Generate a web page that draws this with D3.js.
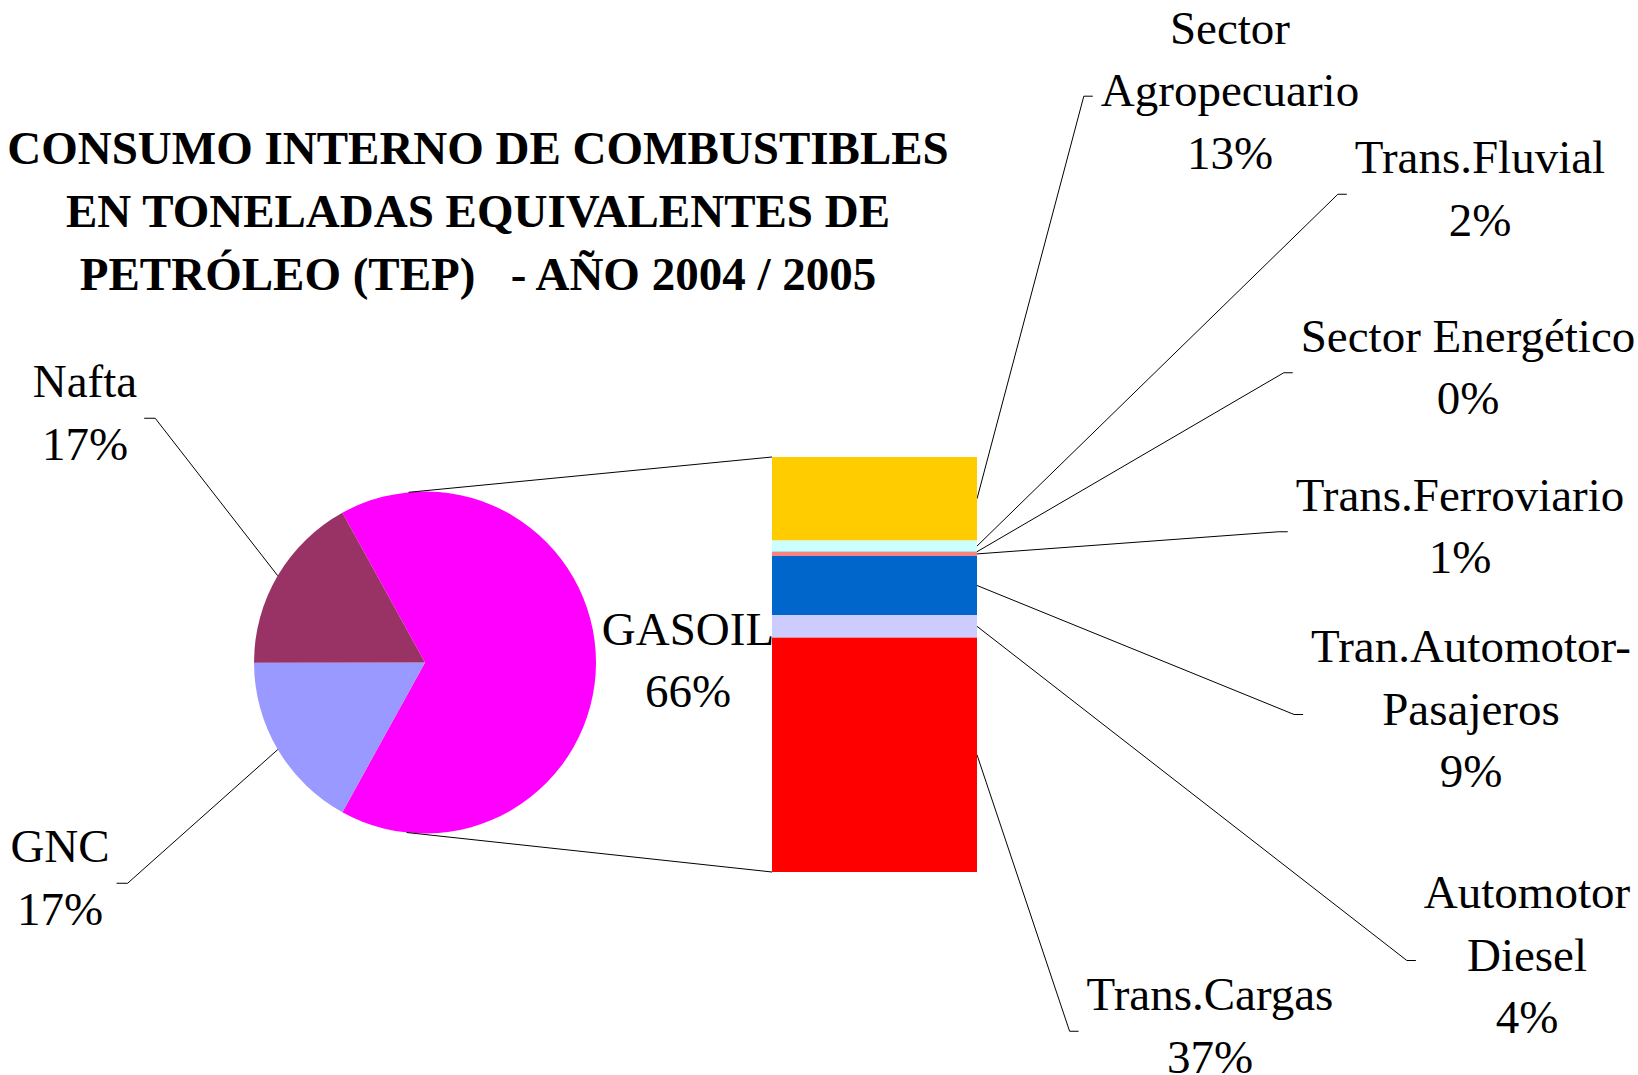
<!DOCTYPE html>
<html><head><meta charset="utf-8">
<script src="https://cdn.jsdelivr.net/npm/d3@7"></script>
<style>
html,body{margin:0;padding:0;background:#fff;}
svg{display:block;}
text{font-family:"Liberation Serif","Times New Roman",serif;fill:#000;white-space:pre;}
</style></head>
<body>
<svg id="chart" width="1638" height="1075"></svg>
<script>
// ---------- DATA ----------
const titleLines = ["CONSUMO INTERNO DE COMBUSTIBLES", "EN TONELADAS EQUIVALENTES DE", "PETRÓLEO (TEP)   - AÑO 2004 / 2005"];
const pieCategories = ["GASOIL", "GNC", "Nafta"];
const pieValues = [66.05, 16.95, 17.0];
const pieColors = ["#FF00FF", "#9999FF", "#993366"];
const barCategories = ["Sector Agropecuario", "Trans.Fluvial", "Sector Energético", "Trans.Ferroviario", "Tran.Automotor-Pasajeros", "Automotor Diesel", "Trans.Cargas"];
const barValues = [13.3, 1.75, 0.05, 0.65, 9.4, 3.6, 37.3];
const barColors = ["#FFCC00", "#CCFFFF", "#00CCCC", "#FF8080", "#0066CC", "#CCCCFF", "#FF0000"];

// ---------- LAYOUT ----------
const W = 1638, H = 1075;
const pieC = {x: 425, y: 662.5}, R = 171;
const bar = {x0: 772, x1: 977, y0: 457, y1: 872};
const fontSize = 47, lineH = 62.5;
// label blocks: name lines, centre x, first baseline, leader side
const labelLayout = {
  "Nafta": {lines: ["Nafta"], cx: 85, y: 397, side: "right"},
  "GNC": {lines: ["GNC"], cx: 60, y: 862, side: "right"},
  "GASOIL": {lines: ["GASOIL"], cx: 688, y: 644.5, side: "none"},
  "Sector Agropecuario": {lines: ["Sector", "Agropecuario"], cx: 1230, y: 43.7, side: "left"},
  "Trans.Fluvial": {lines: ["Trans.Fluvial"], cx: 1480, y: 173, side: "left"},
  "Sector Energético": {lines: ["Sector Energético"], cx: 1468, y: 351.5, side: "left"},
  "Trans.Ferroviario": {lines: ["Trans.Ferroviario"], cx: 1460, y: 510.5, side: "left"},
  "Tran.Automotor-Pasajeros": {lines: ["Tran.Automotor-", "Pasajeros"], cx: 1471, y: 662, side: "left"},
  "Automotor Diesel": {lines: ["Automotor", "Diesel"], cx: 1527, y: 908, side: "left"},
  "Trans.Cargas": {lines: ["Trans.Cargas"], cx: 1210, y: 1010, side: "left"}
};

const svg = d3.select("#chart");

// ---------- TITLE ----------
const title = svg.append("text").attr("text-anchor", "middle")
  .attr("font-size", fontSize).attr("font-weight", "bold");
titleLines.forEach((t, i) => {
  title.append("tspan").attr("x", 478).attr("y", 163.5 + i * 63).text(t);
});

// ---------- PIE ----------
const total = d3.sum(pieValues);
const gasAngle = pieValues[0] / total * 2 * Math.PI;
const start = Math.PI / 2 - gasAngle / 2;
const pie = d3.pie().sort(null).value(d => d.v).startAngle(start).endAngle(start + 2 * Math.PI);
const arcs = pie(pieCategories.map((c, i) => ({c, v: pieValues[i], col: pieColors[i]})));
const arc = d3.arc().innerRadius(0).outerRadius(R);
const gPie = svg.append("g").attr("transform", `translate(${pieC.x},${pieC.y})`);

// ---------- BAR ----------
const gasTotal = d3.sum(barValues);
const yBar = d3.scaleLinear().domain([0, gasTotal]).range([bar.y0, bar.y1]);
const cum = d3.cumsum(barValues);
const segs = barCategories.map((c, i) => ({c, v: barValues[i], col: barColors[i], a: cum[i] - barValues[i], b: cum[i]}));

// connector lines: tangent from bar corners to pie circle
function tangent(px, py, upper) {
  const dx = px - pieC.x, dy = py - pieC.y;
  const d = Math.hypot(dx, dy);
  const base = Math.atan2(dy, dx);
  const off = Math.acos(R / d);
  const a = upper ? base - off : base + off;
  return [pieC.x + R * Math.cos(a), pieC.y + R * Math.sin(a)];
}
const gLines = svg.append("g").attr("stroke", "#000").attr("stroke-width", 1).attr("fill", "none");
const tTop = tangent(bar.x0, bar.y0, true);
const tBot = tangent(bar.x0, bar.y1, false);
gLines.append("line").attr("x1", tTop[0]).attr("y1", tTop[1]).attr("x2", bar.x0).attr("y2", bar.y0);
gLines.append("line").attr("x1", tBot[0]).attr("y1", tBot[1]).attr("x2", bar.x0).attr("y2", bar.y1);

gPie.selectAll("path").data(arcs).join("path")
  .attr("d", arc).attr("fill", d => d.data.col);

svg.append("g").selectAll("rect").data(segs).join("rect")
  .attr("x", bar.x0).attr("width", bar.x1 - bar.x0)
  .attr("y", d => yBar(d.a)).attr("height", d => Math.max(0, yBar(d.b) - yBar(d.a)))
  .attr("fill", d => d.col);

// ---------- LABELS ----------
function drawLabel(name, value) {
  const L = labelLayout[name];
  const lines = L.lines.concat([Math.round(value) + "%"]);
  const t = svg.append("text").attr("text-anchor", "middle").attr("font-size", fontSize);
  lines.forEach((s, i) => t.append("tspan").attr("x", L.cx).attr("y", L.y + i * lineH).text(s));
  let maxW = 0;
  t.selectAll("tspan").each(function() { maxW = Math.max(maxW, this.getComputedTextLength()); });
  const midY = L.y + (lines.length - 1) * lineH / 2 - 10;
  return {L, maxW, midY};
}

function leader(info, target) {
  const {L, maxW, midY} = info;
  let sx0, sx1;
  if (L.side === "left") { sx1 = L.cx - maxW / 2 - 8; sx0 = sx1 - 9; }
  else { sx1 = L.cx + maxW / 2 + 7; sx0 = sx1 + 11; }
  const p = d3.path();
  p.moveTo(sx1, midY); p.lineTo(sx0, midY); p.lineTo(target[0], target[1]);
  gLines.append("path").attr("d", p.toString());
}

arcs.forEach(d => {
  const info = drawLabel(d.data.c, d.data.v / total * 100);
  if (info.L.side !== "none") {
    const m = (d.startAngle + d.endAngle) / 2;
    leader(info, [pieC.x + R * Math.sin(m), pieC.y - R * Math.cos(m)]);
  }
});
segs.forEach(d => {
  const info = drawLabel(d.c, d.v / total * 100);
  leader(info, [bar.x1, (yBar(d.a) + yBar(d.b)) / 2]);
});
</script>
</body></html>
